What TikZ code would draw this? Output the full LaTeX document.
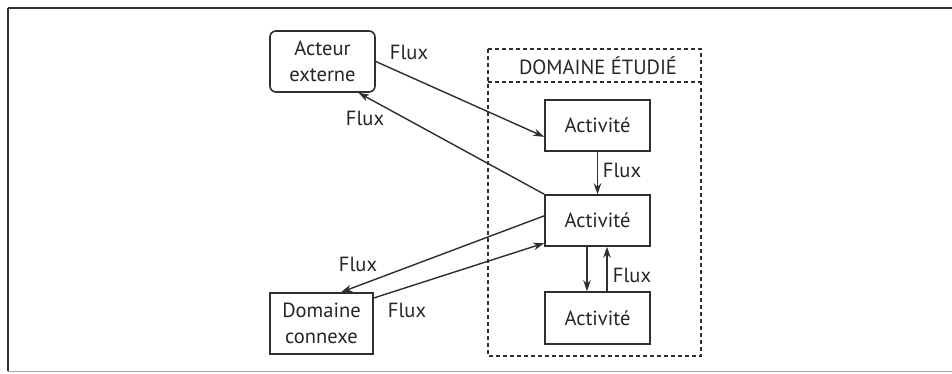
\documentclass[tikz,border=0pt]{standalone}
\usepackage{fontspec}
\setmainfont{PT Sans}
\usetikzlibrary{arrows.meta,calc}
\definecolor{ink}{HTML}{262626}
\definecolor{lineink}{HTML}{2E2E2E}
\tikzset{
  box/.style={draw=lineink, line width=1.6pt, minimum width=105pt, minimum height=51pt, inner sep=0pt, text=ink, align=center, font=\fontsize{20.5}{26}\selectfont},
  lbl/.style={text=ink, inner sep=0pt, font=\fontsize{20.5}{24}\selectfont},
  flow/.style={draw=lineink, line width=1.4pt, -{Stealth[length=11pt,width=7.5pt]}},
}
\begin{document}
\begin{tikzpicture}[x=1pt,y=-1pt]
\useasboundingbox (0,0) rectangle (952,374);
\fill[white] (0,0) rectangle (952,374);
% outer frame
\draw[lineink, line width=2.4pt] (8,8) -- (952,8);
\draw[lineink, line width=1.8pt] (8,8) -- (8,371);
\draw[gray!70, line width=1pt] (8,371) -- (952,371);
% studied domain
\draw[lineink, line width=1.5pt, dash pattern=on 4pt off 3pt] (488,49) rectangle (701,356);
\draw[lineink, line width=1.5pt, dash pattern=on 4pt off 3pt] (488,82) -- (701,82);
\node[lbl] (domlabel) at (598,66) {DOMAINE ÉTUDIÉ};
% nodes
\node[box, rounded corners=6pt, minimum width=105pt, minimum height=61pt] (acteur) at (322.5,61.5) {Acteur\\externe};
\node[box, minimum width=103pt, minimum height=61pt] (dom) at (321.5,323.5) {Domaine\\connexe};
\node[box] (act1) at (597.5,125.5) {Activité};
\node[box] (act2) at (597.5,220.5) {Activité};
\node[box, minimum height=52pt] (act3) at (597.5,318) {Activité};
% connectors
\draw[flow] (acteur.east) -- (act1.192);
\draw[flow] (act2.north west) -- (acteur.-41);
\draw[flow] (act2.175) -- (dom.58);
\draw[flow] (dom.26) -- (act2.203);
\draw[flow] (act1.south) -- (act2.north);
\draw[flow] ([xshift=-10.5pt]act2.south) -- ([xshift=-10.5pt]act3.north);
\draw[flow] ([xshift=9.5pt]act3.north) -- ([xshift=9.5pt]act2.south);
% labels
\node[lbl] (f1) at (409,52) {Flux};
\node[lbl] (f2) at (365,118) {Flux};
\node[lbl] (f3) at (622,170) {Flux};
\node[lbl] (f4) at (358,264) {Flux};
\node[lbl] (f5) at (407,310) {Flux};
\node[lbl] (f6) at (632,275) {Flux};
\end{tikzpicture}
\end{document}
